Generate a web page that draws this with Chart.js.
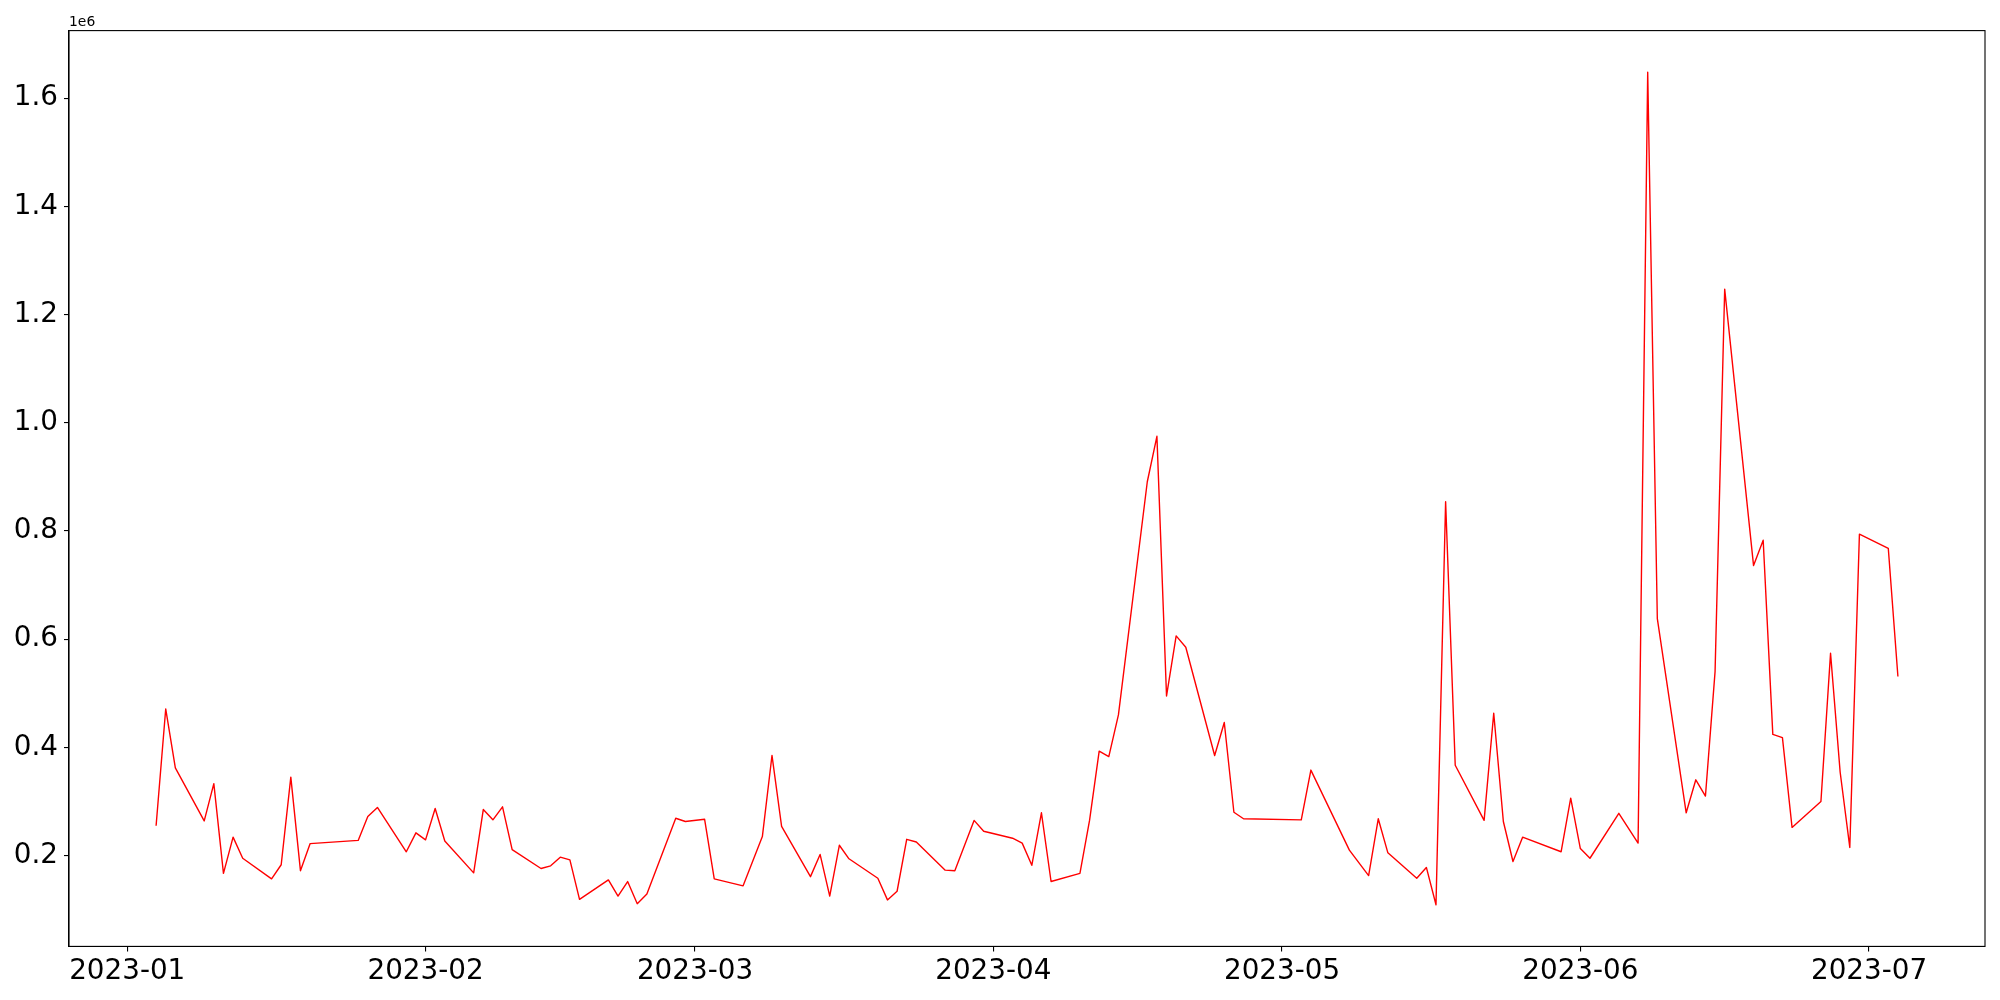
<!DOCTYPE html>
<html>
<head>
<meta charset="utf-8">
<script src="https://cdn.jsdelivr.net/npm/chart.js@4.4.1/dist/chart.umd.min.js"></script>
<style>
  html, body { margin: 0; padding: 0; background: #ffffff; }
  #wrap { width: 2000px; height: 1000px; position: relative; }
</style>
</head>
<body>
<div id="wrap"><canvas id="c" width="2000" height="1000"></canvas></div>
<script>
// ---- data ----
const dates = [
  '2023-01-04','2023-01-05','2023-01-06','2023-01-09','2023-01-10','2023-01-11','2023-01-12','2023-01-13',
  '2023-01-16','2023-01-17','2023-01-18','2023-01-19','2023-01-20','2023-01-25','2023-01-26','2023-01-27',
  '2023-01-30','2023-01-31','2023-02-01','2023-02-02','2023-02-03','2023-02-06','2023-02-07','2023-02-08',
  '2023-02-09','2023-02-10','2023-02-13','2023-02-14','2023-02-15','2023-02-16','2023-02-17','2023-02-20',
  '2023-02-21','2023-02-22','2023-02-23','2023-02-24','2023-02-27','2023-02-28','2023-03-02','2023-03-03',
  '2023-03-06','2023-03-08','2023-03-09','2023-03-10','2023-03-13','2023-03-14','2023-03-15','2023-03-16',
  '2023-03-17','2023-03-20','2023-03-21','2023-03-22','2023-03-23','2023-03-24','2023-03-27','2023-03-28',
  '2023-03-30','2023-03-31','2023-04-03','2023-04-04','2023-04-05','2023-04-06','2023-04-07','2023-04-10',
  '2023-04-11','2023-04-12','2023-04-13','2023-04-14','2023-04-17','2023-04-18','2023-04-19','2023-04-20',
  '2023-04-21','2023-04-24','2023-04-25','2023-04-26','2023-04-27','2023-05-03','2023-05-04','2023-05-08',
  '2023-05-10','2023-05-11','2023-05-12','2023-05-15','2023-05-16','2023-05-17','2023-05-18','2023-05-19',
  '2023-05-22','2023-05-23','2023-05-24','2023-05-25','2023-05-26','2023-05-30','2023-05-31','2023-06-01',
  '2023-06-02','2023-06-05','2023-06-07','2023-06-08','2023-06-09','2023-06-12','2023-06-13','2023-06-14',
  '2023-06-15','2023-06-16','2023-06-19','2023-06-20','2023-06-21','2023-06-22','2023-06-23','2023-06-26',
  '2023-06-27','2023-06-28','2023-06-29','2023-06-30','2023-07-03','2023-07-04'
];
const values = [
  255000, 471000, 362000, 264000, 333000, 167000, 234000, 195000,
  157000, 183000, 345000, 172000, 222000, 228000, 272000, 289000,
  207000, 242000, 229000, 287000, 227000, 168000, 285000, 266000,
  290000, 211000, 176000, 181000, 197000, 192000, 119000, 155000,
  125000, 152000, 111000, 129000, 269000, 263000, 267000, 157000,
  144000, 235000, 385000, 254000, 161000, 202000, 125000, 219000,
  194000, 158000, 118000, 134000, 230000, 225000, 173000, 172000,
  265000, 245000, 232000, 223000, 182000, 279000, 152000, 167000,
  265000, 393000, 383000, 460000, 891000, 975000, 495000, 606000,
  585000, 385000, 446000, 280000, 268000, 266000, 358000, 210000,
  163000, 268000, 205000, 158000, 178000, 109000, 854000, 367000,
  265000, 463000, 263000, 189000, 234000, 207000, 306000, 213000,
  195000, 278000, 223000, 1648000, 638000, 279000, 340000, 310000,
  540000, 1247000, 736000, 783000, 424000, 418000, 252000, 300000,
  574000, 354000, 215000, 794000, 768000, 531000
];
const xTickDates  = ['2023-01-01','2023-02-01','2023-03-01','2023-04-01','2023-05-01','2023-06-01','2023-07-01'];
const xTickLabels = ['2023-01','2023-02','2023-03','2023-04','2023-05','2023-06','2023-07'];
const yTickValues = [200000, 400000, 600000, 800000, 1000000, 1200000, 1400000, 1600000];
const yTickLabels = ['0.2','0.4','0.6','0.8','1.0','1.2','1.4','1.6'];
const offsetLabel = '1e6';

// ---- helpers ----
const origin = Date.UTC(2023, 0, 1);
function dayNum(s) {
  const p = s.split('-').map(Number);
  return (Date.UTC(p[0], p[1] - 1, p[2]) - origin) / 86400000;
}
const points = dates.map((d, i) => ({ x: dayNum(d), y: values[i] }));
const xTickPos = xTickDates.map(dayNum);

const xs = points.map(p => p.x), ys = points.map(p => p.y);
const xMinD = Math.min(...xs), xMaxD = Math.max(...xs);
const yMinD = Math.min(...ys), yMaxD = Math.max(...ys);
const xPad = 0.05 * (xMaxD - xMinD), yPad = 0.05 * (yMaxD - yMinD);

const FONT = 'DejaVu Sans';
const TICK_PX = 27.8;

const framePlugin = {
  id: 'frame',
  afterDraw(chart) {
    const { ctx, chartArea: a } = chart;
    ctx.save();
    ctx.strokeStyle = '#000';
    ctx.lineWidth = 1.1;
    ctx.strokeRect(a.left, a.top, a.right - a.left, a.bottom - a.top);
    ctx.fillStyle = '#000';
    ctx.font = '13.9px "' + FONT + '"';
    ctx.textAlign = 'left';
    ctx.textBaseline = 'alphabetic';
    ctx.fillText(offsetLabel, a.left, a.top - 4.5);
    ctx.restore();
  }
};

new Chart(document.getElementById('c'), {
  type: 'line',
  data: {
    datasets: [{
      data: points,
      borderColor: '#ff0000',
      borderWidth: 1.4,
      pointRadius: 0,
      tension: 0,
      fill: false,
      borderJoinStyle: 'round',
      borderCapStyle: 'butt'
    }]
  },
  options: {
    responsive: false,
    animation: false,
    devicePixelRatio: 1,
    layout: { padding: { left: 0, top: 30.6, right: 15, bottom: 0 } },
    plugins: { legend: { display: false }, tooltip: { enabled: false }, title: { display: false } },
    scales: {
      x: {
        type: 'linear',
        min: xMinD - xPad,
        max: xMaxD + xPad,
        afterBuildTicks(scale) { scale.ticks = xTickPos.map(v => ({ value: v })); },
        afterFit(scale) { scale.height = 53.6; },
        grid: { drawOnChartArea: false, drawTicks: true, tickLength: 5, color: '#000', lineWidth: 1.1 },
        border: { display: true, color: '#000', width: 1.1 },
        ticks: {
          autoSkip: false, maxRotation: 0, padding: 4,
          color: '#000',
          font: { family: FONT, size: TICK_PX },
          callback(v) { const i = xTickPos.indexOf(v); return i >= 0 ? xTickLabels[i] : ''; }
        }
      },
      y: {
        type: 'linear',
        min: yMinD - yPad,
        max: yMaxD + yPad,
        afterBuildTicks(scale) { scale.ticks = yTickValues.map(v => ({ value: v })); },
        afterFit(scale) { scale.width = 69; },
        grid: { drawOnChartArea: false, drawTicks: true, tickLength: 5, color: '#000', lineWidth: 1.1 },
        border: { display: true, color: '#000', width: 1.1 },
        ticks: {
          autoSkip: false, padding: 6,
          color: '#000',
          font: { family: FONT, size: TICK_PX },
          callback(v) { const i = yTickValues.indexOf(v); return i >= 0 ? yTickLabels[i] : ''; }
        }
      }
    }
  },
  plugins: [framePlugin]
});
</script>
</body>
</html>
